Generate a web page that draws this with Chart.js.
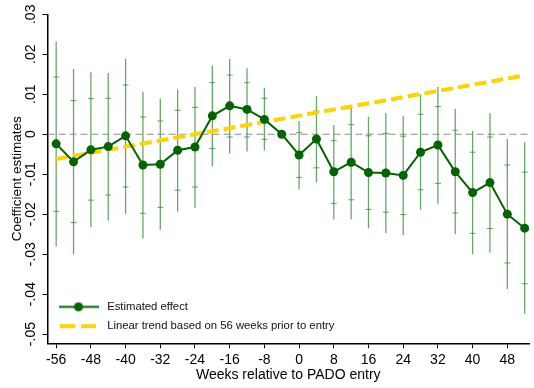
<!DOCTYPE html>
<html>
<head>
<meta charset="utf-8">
<script src="https://cdn.jsdelivr.net/npm/chart.js@4.4.1/dist/chart.umd.min.js"></script>
<style>
  html, body { margin: 0; padding: 0; background: #fff; }
  #wrap { width: 534px; height: 388px; }
</style>
</head>
<body>
<div id="wrap"><canvas id="chart" width="534" height="388"></canvas></div>
<script>
// Event-study estimates, every 4 weeks around entry (week -4 is the reference)
const weeks = [-56, -52, -48, -44, -40, -36, -32, -28, -24, -20, -16, -12, -8, -4,
  0, 4, 8, 12, 16, 20, 24, 28, 32, 36, 40, 44, 48, 52];
const estimates = [-0.0024, -0.0069, -0.0039, -0.0031, -0.0004, -0.0077, -0.0075,
  -0.0040, -0.0032, 0.0046, 0.0071, 0.0062, 0.0037, 0.0000,
  -0.0052, -0.0012, -0.0094, -0.0070, -0.0096, -0.0097, -0.0103,
  -0.0045, -0.0027, -0.0094, -0.0146, -0.0121, -0.0200, -0.0235];

// narrow interval (capped)
const innerLo = [-0.0193, -0.0221, -0.0165, -0.0152, -0.0132, -0.0198, -0.0183,
  -0.0140, -0.0132, -0.0036, -0.0007, -0.0007, -0.0013, null,
  -0.0108, -0.0084, -0.0173, -0.0164, -0.0188, -0.0195, -0.0201,
  -0.0139, -0.0123, -0.0197, -0.0248, -0.0236, -0.0322, -0.0374];
const innerHi = [0.0143, 0.0084, 0.0089, 0.0090, 0.0123, 0.0043, 0.0033,
  0.0060, 0.0067, 0.0129, 0.0148, 0.0129, 0.0090, null,
  0.0004, 0.0058, -0.0016, 0.0024, -0.0004, 0.0002, -0.0005,
  0.0050, 0.0069, 0.0010, -0.0045, -0.0007, -0.0077, -0.0095];

// wide interval (whiskers)
const outerLo = [-0.0281, -0.0300, -0.0233, -0.0216, -0.0199, -0.0261, -0.0239,
  -0.0193, -0.0184, -0.0080, -0.0048, -0.0043, -0.0041, null,
  -0.0138, -0.0121, -0.0213, -0.0213, -0.0235, -0.0247, -0.0253,
  -0.0189, -0.0174, -0.0250, -0.0300, -0.0296, -0.0387, -0.0449];
const outerHi = [0.0232, 0.0163, 0.0155, 0.0153, 0.0189, 0.0106, 0.0089,
  0.0112, 0.0118, 0.0172, 0.0188, 0.0165, 0.0116, null,
  0.0033, 0.0095, 0.0023, 0.0072, 0.0044, 0.0053, 0.0046,
  0.0100, 0.0118, 0.0064, 0.0008, 0.0053, -0.0012, -0.0020];

// pre-period linear trend, end points
const trendWeeks = [-56, 52];
const trendValues = [-0.0062, 0.0147];

const xTicks = [-56, -48, -40, -32, -24, -16, -8, 0, 8, 16, 24, 32, 40, 48];
const yTicks = [0.03, 0.02, 0.01, 0, -0.01, -0.02, -0.03, -0.04, -0.05];
const xRange = [-58, 53];
const yRange = [-0.0523, 0.03];

const seriesLabels = ["Estimated effect", "Linear trend based on 56 weeks prior to entry"];

const GREEN = "#006400";
const CI_GREEN = "rgba(34, 124, 34, 0.68)";
const GOLD = "#FFD200";
const FONT = "'Liberation Sans', Arial, Helvetica, sans-serif";

// whiskers: one segment per week, broken by nulls
const whiskerData = [];
weeks.forEach((w, i) => {
  if (outerLo[i] === null) return;
  whiskerData.push({ x: w, y: outerLo[i] }, { x: w, y: outerHi[i] }, { x: w, y: null });
});

const capData = [];
weeks.forEach((w, i) => {
  if (innerLo[i] === null) return;
  capData.push({ x: w, y: innerLo[i] }, { x: w, y: innerHi[i] });
});

// legend symbols
function makeSymbol(draw, w, h) {
  const c = document.createElement("canvas");
  c.width = w;
  c.height = h;
  draw(c.getContext("2d"), w, h);
  return c;
}
const effectSymbol = makeSymbol((ctx, w, h) => {
  ctx.strokeStyle = GREEN;
  ctx.lineWidth = 2;
  ctx.beginPath();
  ctx.moveTo(0, h / 2);
  ctx.lineTo(w, h / 2);
  ctx.stroke();
  ctx.fillStyle = GREEN;
  ctx.beginPath();
  ctx.arc(w / 2, h / 2, 4.5, 0, Math.PI * 2);
  ctx.fill();
}, 40, 11);
const trendSymbol = makeSymbol((ctx, w, h) => {
  ctx.strokeStyle = GOLD;
  ctx.lineWidth = 4;
  ctx.setLineDash([15, 6]);
  ctx.beginPath();
  ctx.moveTo(0, h / 2);
  ctx.lineTo(w, h / 2);
  ctx.stroke();
}, 37, 6);

// keep the legend in the lower-left corner of the plot
const legendPlacement = {
  id: "legendPlacement",
  afterLayout(chart) {
    const lg = chart.legend;
    const area = chart.chartArea;
    lg.top = area.top;
    lg.bottom = area.bottom - 3.5;
    lg.height = lg.bottom - lg.top;
  },
};

const ctx = document.getElementById("chart").getContext("2d");
new Chart(ctx, {
  type: "line",
  plugins: [legendPlacement],
  data: {
    datasets: [
      {
        label: seriesLabels[0],
        data: weeks.map((w, i) => ({ x: w, y: estimates[i] })),
        borderColor: GREEN,
        backgroundColor: GREEN,
        borderWidth: 2,
        pointRadius: 4.5,
        pointBorderWidth: 0,
        pointBackgroundColor: GREEN,
        order: 0,
      },
      {
        label: seriesLabels[1],
        data: trendWeeks.map((w, i) => ({ x: w, y: trendValues[i] })),
        borderColor: GOLD,
        borderWidth: 4,
        borderDash: [12, 5],
        pointRadius: 0,
        order: 1,
      },
      {
        label: "zero",
        data: xRange.map((x) => ({ x, y: 0 })),
        borderColor: "#8a8a8a",
        borderWidth: 1.2,
        borderDash: [7, 4],
        pointRadius: 0,
        order: 2,
      },
      {
        label: "caps",
        data: capData,
        showLine: false,
        pointStyle: "line",
        pointRadius: 3,
        borderColor: CI_GREEN,
        borderWidth: 1,
        order: 3,
      },
      {
        label: "whiskers",
        data: whiskerData,
        borderColor: CI_GREEN,
        borderWidth: 1.3,
        pointRadius: 0,
        spanGaps: false,
        order: 4,
      },
    ],
  },
  options: {
    responsive: false,
    animation: false,
    events: [],
    layout: { padding: { top: 14.3, right: 0, left: 0, bottom: 0 } },
    scales: {
      x: {
        type: "linear",
        min: xRange[0],
        max: xRange[1],
        offset: false,
        afterBuildTicks: (scale) => {
          scale.ticks = xTicks.map((value) => ({ value }));
        },
        afterFit: (scale) => {
          scale.height = 44.7;
        },
        grid: { drawOnChartArea: false, tickLength: 5, tickColor: "#000", tickWidth: 1 },
        border: { color: "#000", width: 1.5 },
        ticks: {
          color: "#000",
          font: { family: FONT, size: 14 },
          padding: 3,
          maxRotation: 0,
          autoSkip: false,
          callback: (v) => String(v),
        },
        title: {
          display: true,
          text: "Weeks relative to PADO entry",
          color: "#000",
          font: { family: FONT, size: 14 },
          padding: { top: 0, bottom: 4 },
        },
      },
      y: {
        type: "linear",
        min: yRange[0],
        max: yRange[1],
        afterBuildTicks: (scale) => {
          scale.ticks = yTicks.map((value) => ({ value }));
        },
        afterFit: (scale) => {
          scale.width = 47.5;
        },
        grid: { drawOnChartArea: false, tickLength: 5, tickColor: "#000", tickWidth: 1 },
        border: { color: "#000", width: 1.5 },
        ticks: {
          color: "#000",
          font: { family: FONT, size: 14 },
          padding: -1,
          minRotation: 90,
          maxRotation: 90,
          crossAlign: "center",
          autoSkip: false,
          callback: (v) => (v === 0 ? "0" : v.toFixed(2).replace("0.", ".")),
        },
        title: {
          display: true,
          text: "Coefficient estimates",
          color: "#000",
          font: { family: FONT, size: 13.5 },
          padding: { top: 9, bottom: 0 },
        },
      },
    },
    plugins: {
      tooltip: { enabled: false },
      legend: {
        position: "chartArea",
        align: "end",
        labels: {
          color: "#111",
          font: { family: FONT, size: 11.3 },
          padding: 8,
          usePointStyle: true,
          pointStyleWidth: 46,
          filter: (item) => item.datasetIndex < 2,
          generateLabels: (chart) => {
            const items = Chart.defaults.plugins.legend.labels.generateLabels(chart);
            items.forEach((item) => {
              item.pointStyle = item.datasetIndex === 0 ? effectSymbol : trendSymbol;
              item.lineWidth = 0;
            });
            return items;
          },
        },
      },
    },
  },
});
</script>
</body>
</html>
